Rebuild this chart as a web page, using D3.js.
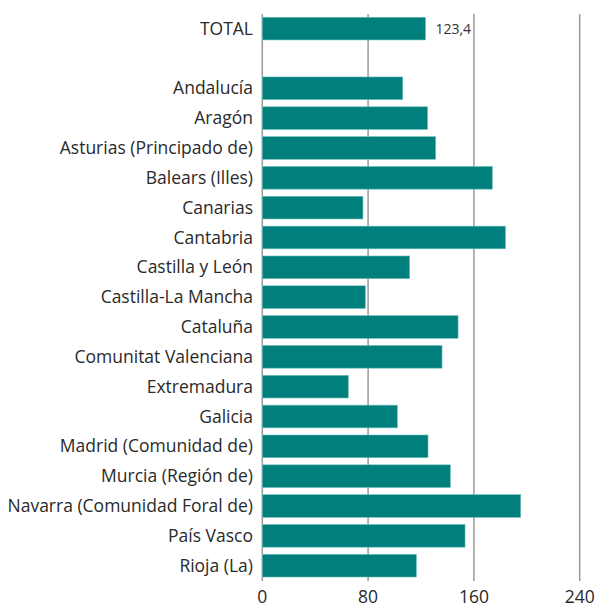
<!DOCTYPE html>
<html><head><meta charset="utf-8">
<script src="https://cdn.jsdelivr.net/npm/d3@7"></script>
<style>body{margin:0;background:#fff}</style>
</head><body>
<svg id="c" width="598" height="608"></svg>
<script>
const categories = ["TOTAL","","Andalucía","Aragón","Asturias (Principado de)","Balears (Illes)","Canarias","Cantabria","Castilla y León","Castilla-La Mancha","Cataluña","Comunitat Valenciana ","Extremadura","Galicia ","Madrid (Comunidad de)","Murcia (Región de)","Navarra (Comunidad Foral de)","País Vasco","Rioja (La)"];
const values = [123.4,null,106.2,125.0,131.1,173.9,76.1,183.8,111.4,77.9,148.0,135.9,65.0,102.1,125.3,142.2,195.4,153.3,116.5];
const ticks = [0,80,160,240];
const labelValues = ["123,4"];

const svg = d3.select("#c");
const x = d3.scaleLinear().domain([0,240]).range([262.3,579.7]);
const y = d3.scaleBand().domain(categories.map((d,i)=>i)).range([13.7,580.6]).paddingInner(0.24).paddingOuter(0.12);
const font = "'Open Sans', sans-serif";

svg.append("g").selectAll("line").data(ticks).join("line")
  .attr("x1",d=>x(d)).attr("x2",d=>x(d)).attr("y1",14).attr("y2",581)
  .attr("stroke","#9a9a9a").attr("stroke-width",1.5);

const data = categories.map((c,i)=>({c,i,v:values[i]})).filter(d=>d.v!=null);
svg.append("g").selectAll("rect").data(data).join("rect")
  .attr("x",x(0)).attr("y",d=>y(d.i)).attr("width",d=>x(d.v)-x(0)).attr("height",y.bandwidth())
  .attr("fill","#007f7c").attr("stroke","#6cc0bc").attr("stroke-width",0.6);

svg.append("g").selectAll("text").data(categories.map((c,i)=>({c,i})).filter(d=>d.c)).join("text")
  .attr("x",253).attr("y",d=>y(d.i)+y.bandwidth()/2).attr("dy","0.35em")
  .attr("text-anchor","end").attr("font-family",font).attr("font-size",17.5).attr("fill","#2a2a2a")
  .text(d=>d.c);

svg.append("text").attr("x",x(values[0])+10).attr("y",y(0)+y.bandwidth()/2).attr("dy","0.35em")
  .attr("font-family",font).attr("font-size",14).attr("fill","#333").text(labelValues[0]);

svg.append("g").selectAll("text").data(ticks).join("text")
  .attr("x",d=>x(d)).attr("y",603).attr("text-anchor","middle")
  .attr("font-family",font).attr("font-size",17.5).attr("fill","#2a2a2a").text(d=>d);
</script>
</body></html>
